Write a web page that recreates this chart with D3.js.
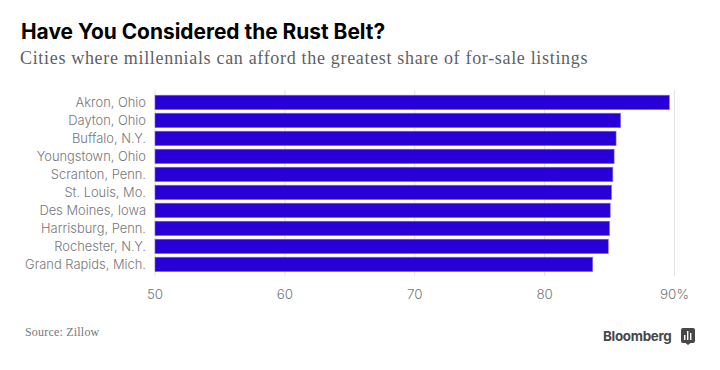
<!DOCTYPE html>
<html>
<head>
<meta charset="utf-8">
<script src="https://cdn.jsdelivr.net/npm/d3@7"></script>
<style>
  html, body { margin: 0; padding: 0; background: #fff; }
  svg { display: block; }
  .axis path { display: none; }
  .axis text { font-family: Inter, sans-serif; font-weight: 300; }
</style>
</head>
<body>
<div id="chart"></div>
<script>
const cities = ["Akron, Ohio", "Dayton, Ohio", "Buffalo, N.Y.", "Youngstown, Ohio", "Scranton, Penn.",
  "St. Louis, Mo.", "Des Moines, Iowa", "Harrisburg, Penn.", "Rochester, N.Y.", "Grand Rapids, Mich."];
const shares = [89.6, 85.85, 85.5, 85.35, 85.25, 85.15, 85.05, 85.0, 84.9, 83.7];
const ticks = [50, 60, 70, 80, 90];

const width = 720, height = 370;
const margin = { top: 90, left: 155, plotRight: 674.5, plotBottom: 276 };

const svg = d3.select("#chart").append("svg")
  .attr("width", width)
  .attr("height", height);

const xScale = d3.scaleLinear()
  .domain([50, 90])
  .range([margin.left, margin.plotRight]);

const yScale = d3.scaleBand()
  .domain(cities)
  .range([93.4, 273.4])
  .paddingInner(0.2)
  .paddingOuter(0.1);

// gridlines, drawn behind the bars
svg.append("g")
  .selectAll("line")
  .data(ticks)
  .enter()
  .append("line")
  .attr("x1", d => xScale(d))
  .attr("x2", d => xScale(d))
  .attr("y1", margin.top)
  .attr("y2", margin.plotBottom)
  .attr("stroke", "#e2e2e8")
  .attr("stroke-width", 1);

// bars
svg.append("g")
  .selectAll("rect")
  .data(shares)
  .enter()
  .append("rect")
  .attr("x", xScale(50))
  .attr("y", (d, i) => yScale(cities[i]))
  .attr("width", d => xScale(d) - xScale(50))
  .attr("height", yScale.bandwidth())
  .attr("fill", "#2800d7")
  .attr("stroke", "#7f66e7")
  .attr("stroke-width", 0.6);

// city labels
const yAxis = d3.axisLeft(yScale).tickSize(0).tickPadding(9);
svg.append("g")
  .attr("class", "axis")
  .attr("transform", `translate(${margin.left}, 0.8)`)
  .call(yAxis)
  .call(g => g.selectAll("text")
    .attr("font-size", 12.9)
    .attr("fill", "#77777b"));

// value labels
const xAxis = d3.axisBottom(xScale)
  .tickValues(ticks)
  .tickSize(0)
  .tickPadding(0)
  .tickFormat(d => d === 90 ? "90%" : d);
svg.append("g")
  .attr("class", "axis")
  .attr("transform", "translate(-0.5, 289)")
  .call(xAxis)
  .call(g => g.selectAll("text")
    .attr("font-size", 13.4)
    .attr("fill", "#77777b"));

// headline
svg.append("text")
  .attr("x", 21)
  .attr("y", 39)
  .attr("font-family", "Inter, sans-serif")
  .attr("font-weight", 700)
  .attr("font-size", 20.9)
  .attr("fill", "#000")
  .text("Have You Considered the Rust Belt?");

svg.append("text")
  .attr("x", 20)
  .attr("y", 64)
  .attr("font-family", "'Liberation Serif', serif")
  .attr("font-size", 18)
  .attr("letter-spacing", 0.68)
  .attr("fill", "#5f5f64")
  .text("Cities where millennials can afford the greatest share of for-sale listings");

svg.append("text")
  .attr("x", 25)
  .attr("y", 336)
  .attr("font-family", "'Liberation Serif', serif")
  .attr("font-size", 12)
  .attr("letter-spacing", 0.2)
  .attr("fill", "#77777b")
  .text("Source: Zillow");

// Bloomberg mark
svg.append("text")
  .attr("x", 603)
  .attr("y", 341)
  .attr("font-family", "Inter, sans-serif")
  .attr("font-weight", 700)
  .attr("font-size", 13.4)
  .attr("letter-spacing", -0.3)
  .attr("fill", "#46474b")
  .text("Bloomberg");

const logo = svg.append("g").attr("transform", "translate(681, 328)");
logo.append("path")
  .attr("d", "M2,0H12a2,2 0 0 1 2,2V13a2,2 0 0 1 -2,2H9.5L7,17L4.5,15H2a2,2 0 0 1 -2,-2V2a2,2 0 0 1 2,-2Z")
  .attr("fill", "#46474b");
logo.selectAll("rect")
  .data([[3, 7, 5], [6, 3, 9], [9, 5, 7]])
  .enter()
  .append("rect")
  .attr("x", d => d[0])
  .attr("y", d => d[1])
  .attr("width", 1.4)
  .attr("height", d => d[2])
  .attr("fill", "#fff");
</script>
</body>
</html>
